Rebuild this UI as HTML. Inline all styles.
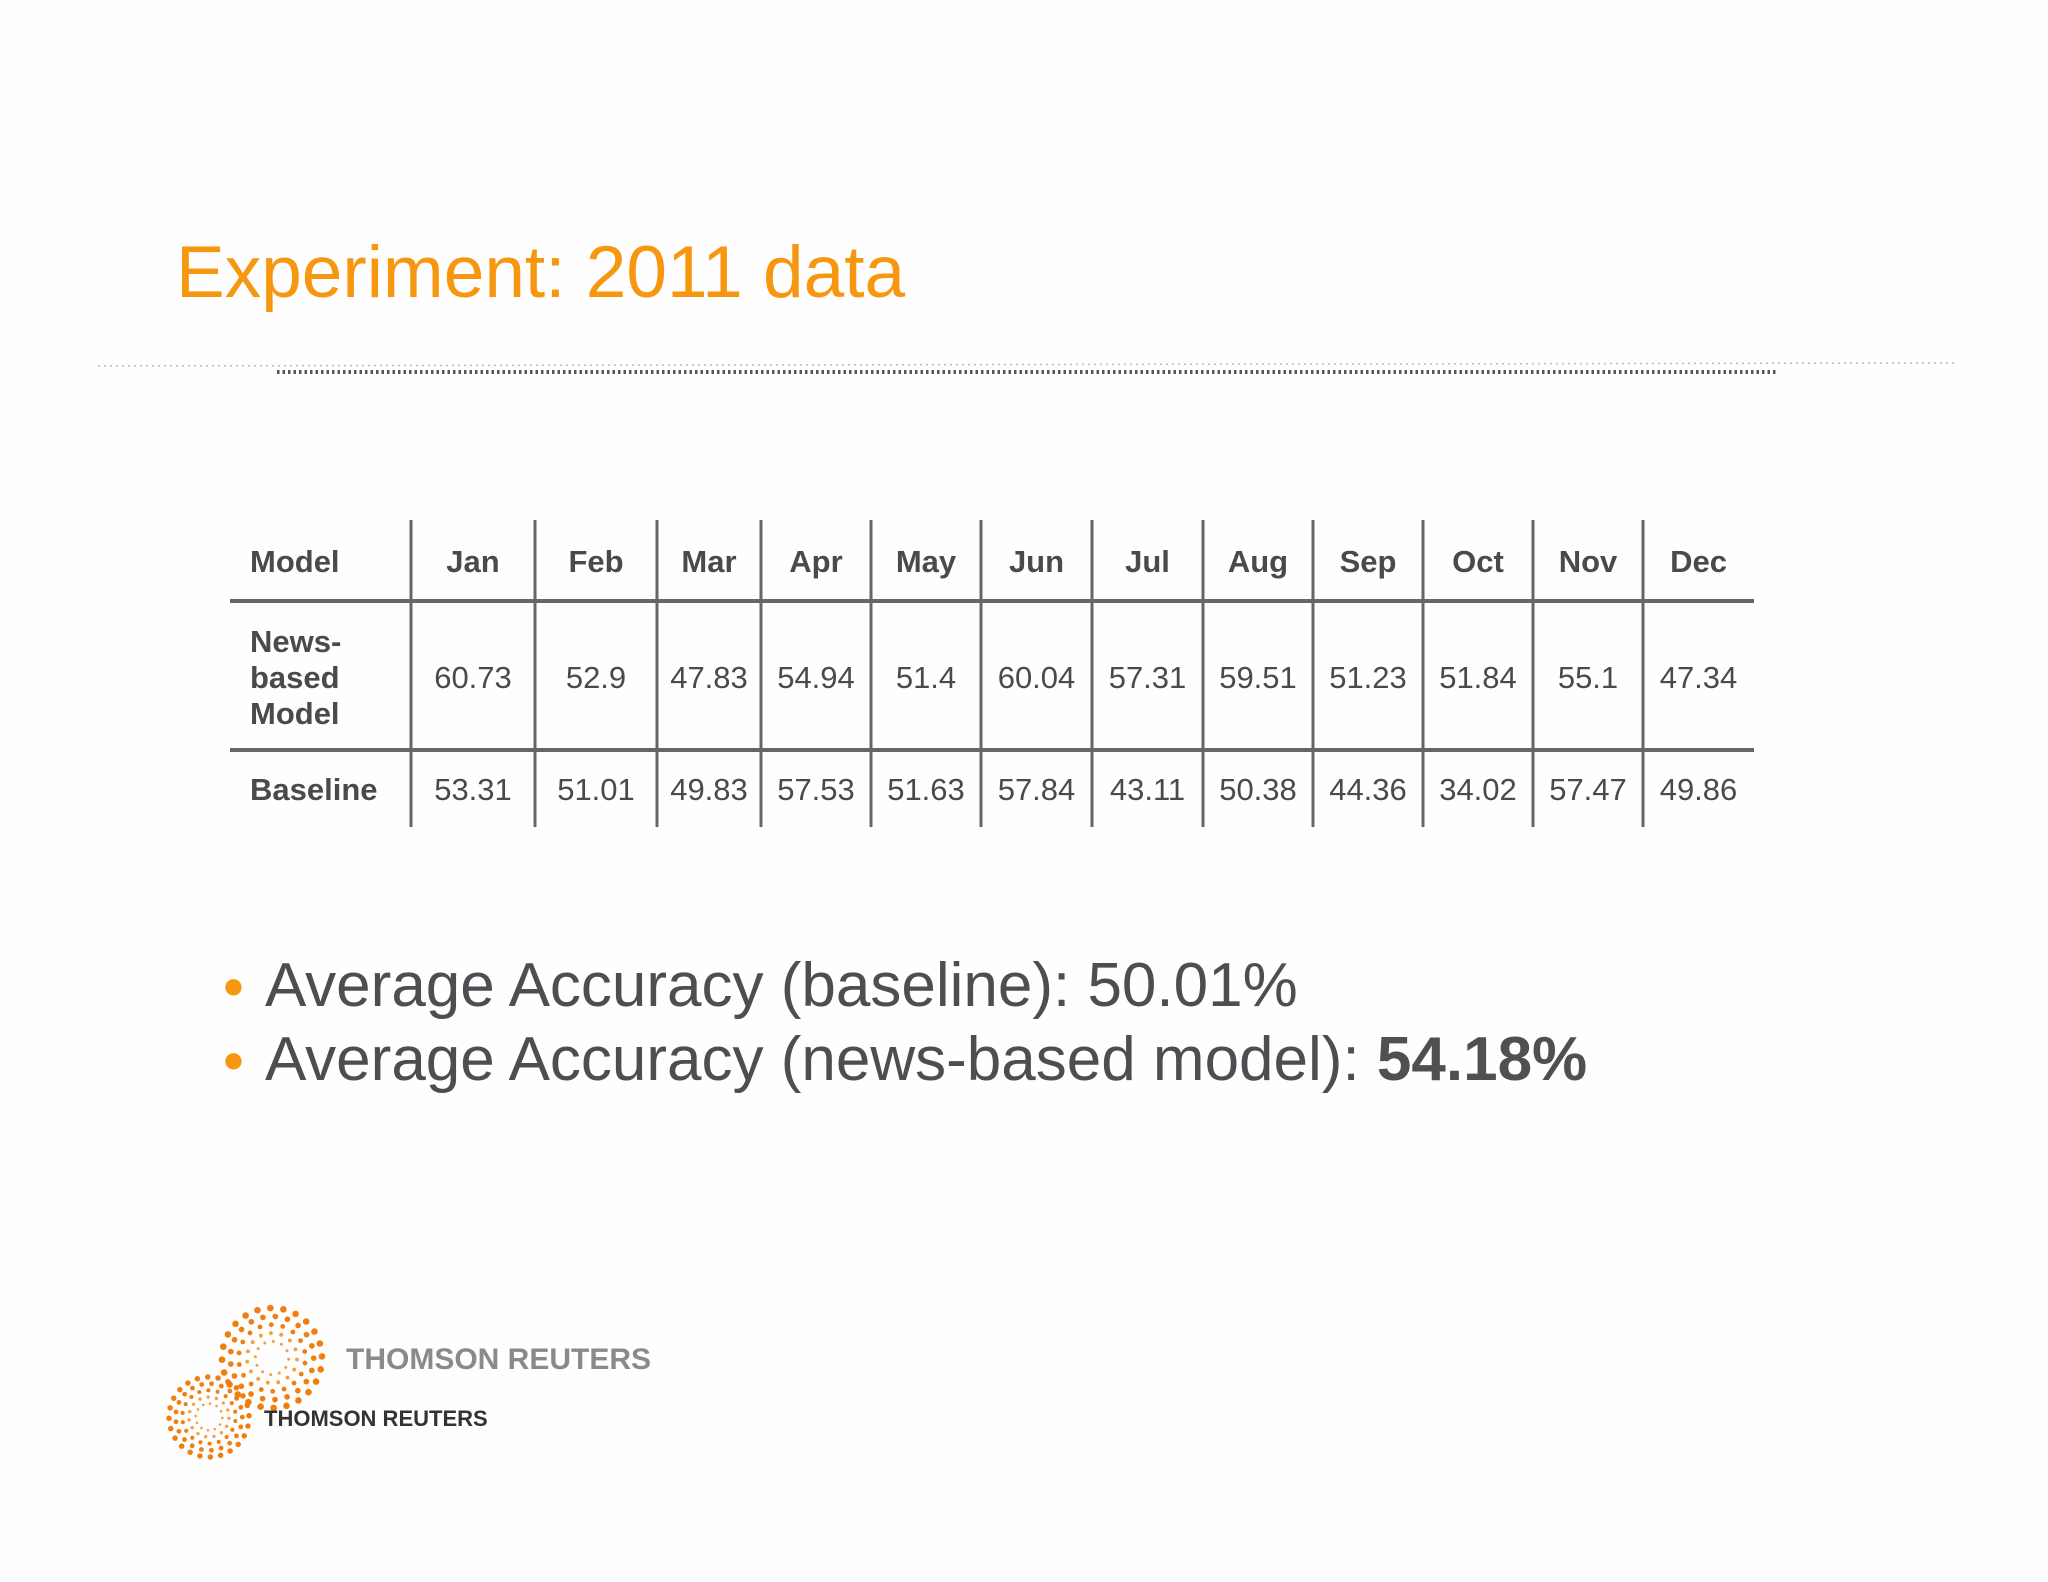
<!DOCTYPE html>
<html><head><meta charset="utf-8"><style>
body{margin:0;width:2048px;height:1582px;background:#fefefe;position:relative;overflow:hidden;font-family:"Liberation Sans",sans-serif}
.abs{position:absolute}
#title{left:176px;top:236px;font-size:73px;color:#f7960f;line-height:1;white-space:nowrap}
.cell{position:absolute;font-size:31px;color:#4a4a4a;text-align:center;line-height:36px;transform:translateY(-50%)}
.b{font-weight:bold}
.bul{position:absolute;left:222px;font-size:62px;color:#4d4d52;white-space:nowrap;line-height:1;transform:translateY(-50%)}
.bul span.dot{color:#f7960f;font-size:38px;position:relative;top:-8px;margin-right:20px}
</style></head><body>
<div id="title" class="abs">Experiment: 2011 data</div>
<svg class="abs" style="left:0;top:0" width="2048" height="1582">
<line x1="98" y1="366" x2="1955" y2="363" stroke="#bbb" stroke-width="1.5" stroke-dasharray="2 4"/>
<line x1="277" y1="372" x2="1776" y2="372" stroke="#555" stroke-width="4" stroke-dasharray="2.5 3"/>
<g id="grid"></g>
<g id="logo"></g>
<text x="346" y="1369" font-family="Liberation Sans" font-weight="bold" font-size="30" fill="#8a8a8a">THOMSON REUTERS</text>
<text x="264" y="1426" font-family="Liberation Sans" font-weight="bold" font-size="22" fill="#333">THOMSON REUTERS</text>
</svg>
<div id="table"></div>
<div class="bul" style="top:986px"><span class="dot">●</span>Average Accuracy (baseline): 50.01%</div>
<div class="bul" style="top:1060px"><span class="dot">●</span>Average Accuracy (news-based model): <b style="color:#505050">54.18%</b></div>
<script>
const months=["Jan","Feb","Mar","Apr","May","Jun","Jul","Aug","Sep","Oct","Nov","Dec"];
const newsModel=["60.73","52.9","47.83","54.94","51.4","60.04","57.31","59.51","51.23","51.84","55.1","47.34"];
const baseline=["53.31","51.01","49.83","57.53","51.63","57.84","43.11","50.38","44.36","34.02","57.47","49.86"];
const colX=[411,535,657,761,871,981,1092,1203,1313,1423,1533,1643,1754];
const NS="http://www.w3.org/2000/svg";
const g=document.getElementById('grid');
function ln(x1,y1,x2,y2,w,n){const l=document.createElementNS(NS,'line');l.setAttribute('x1',x1);l.setAttribute('y1',y1);l.setAttribute('x2',x2);l.setAttribute('y2',y2);l.setAttribute('stroke','#666');l.setAttribute('stroke-width',w);


g.appendChild(l);}
for(let i=0;i<12;i++)ln(colX[i],520,colX[i],827,3,'column-divider');
ln(230,601,1754,601,4,'header-rule');
ln(230,750,1754,750,4,'row-rule');
const t=document.getElementById('table');
function cell(txt,x,w,y,cls,align,n){const d=document.createElement('div');d.className='cell '+(cls||'');d.style.left=x+'px';d.style.width=w+'px';d.style.top=y+'px';if(align)d.style.textAlign=align;d.innerHTML=txt;


t.appendChild(d);}
cell('Model',250,160,562,'b','left','header-model');
cell('News-<br>based<br>Model',250,160,678,'b','left','row-label-news');
cell('Baseline',250,160,790,'b','left','row-label-baseline');
months.forEach((m,i)=>{const x=colX[i],w=colX[i+1]-colX[i];
cell(m,x,w,562,'b',null,'header-month');
cell(newsModel[i],x,w,678,'',null,'news-value');
cell(baseline[i],x,w,790,'',null,'baseline-value');});
const lg=document.getElementById('logo');
function rings(cx,cy,R,n){for(let r=2;r<=n;r++){const rad=R*r/n;const cnt=Math.round(6+r*3);const sz=0.6+r*0.45*(R/50);
for(let k=0;k<cnt;k++){const a=k/cnt*2*Math.PI+r*0.3;const c=document.createElementNS(NS,'circle');c.setAttribute('cx',cx+rad*Math.cos(a));c.setAttribute('cy',cy+rad*Math.sin(a));c.setAttribute('r',sz);c.setAttribute('fill',r>n/2?'#f07f10':'#f5a040');


lg.appendChild(c);}}}
rings(272,1358,50,6);
rings(209,1417,40,6);
</script>
</body></html>
